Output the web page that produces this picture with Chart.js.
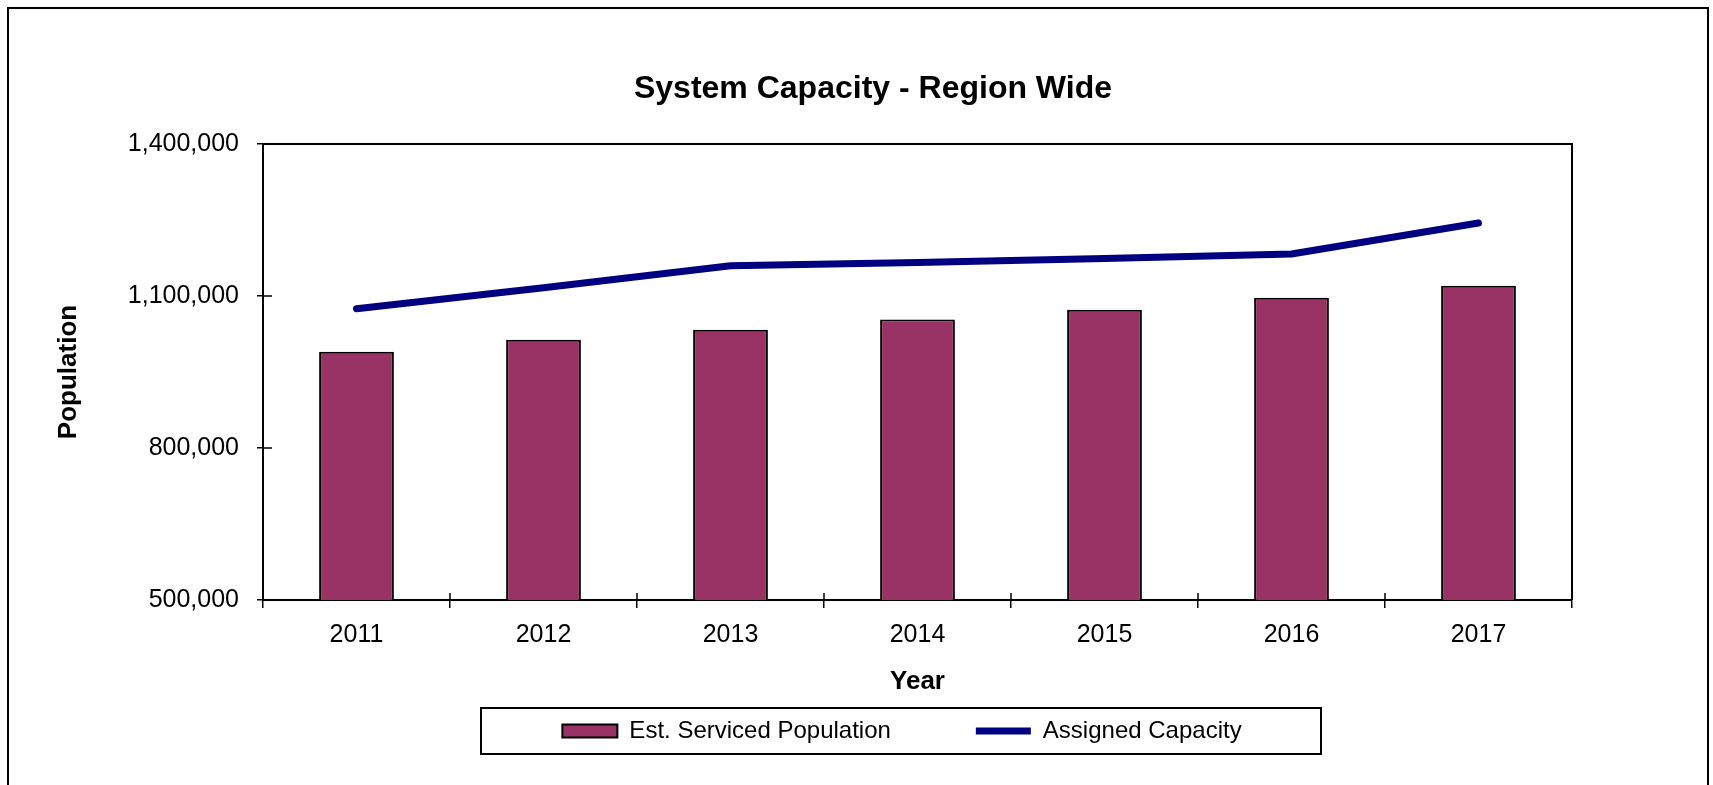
<!DOCTYPE html>
<html>
<head>
<meta charset="utf-8">
<title>System Capacity - Region Wide</title>
<script src="https://cdn.jsdelivr.net/npm/chart.js@4.4.1/dist/chart.umd.min.js"></script>
<style>
  html, body { margin: 0; padding: 0; background: #fff; }
  canvas { display: block; }
</style>
</head>
<body>
<canvas id="capacityChart" width="1713" height="785"></canvas>
<script>
// Chart data
const years = ['2011', '2012', '2013', '2014', '2015', '2016', '2017'];
const servicedPopulation = [990000, 1013700, 1033500, 1053800, 1073000, 1096600, 1120300]; // bars
const assignedCapacity = [1075000, 1116400, 1159800, 1166300, 1174200, 1182900, 1244100];   // line
const yTicks = [500000, 800000, 1100000, 1400000];

const FONT = "'Liberation Sans', Arial, Helvetica, sans-serif";
const titleCenterX = 873;   // title is not centred on the canvas
const legendCenterX = 902;  // neither is the legend row
const legendCenterY = 731;

// frame, plot box, inner tick marks and legend frame
const chartFrame = {
    id: 'chartFrame',
    beforeDraw(chart) {
        const ctx = chart.ctx;
        ctx.save();
        ctx.fillStyle = '#fff';
        ctx.fillRect(0, 0, chart.width, chart.height);
        ctx.strokeStyle = '#000';
        ctx.lineWidth = 2;
        ctx.strokeRect(8, 8, chart.width - 13, chart.height + 20); // bottom edge runs off the page
        ctx.restore();
    },
    afterLayout(chart) {
        // move title and legend where they belong
        const t = chart.titleBlock;
        const dt = titleCenterX - (t.left + t.right) / 2;
        t.left += dt; t.right += dt;
        const lg = chart.legend;
        const dl = legendCenterX - (lg.left + lg.right) / 2;
        lg.left += dl; lg.right += dl;
        const dy = legendCenterY - (lg.top + lg.options.labels.padding + 12);
        lg.top += dy; lg.bottom += dy;
    },
    afterDatasetsDraw(chart) {
        const { ctx, chartArea: a, scales: { x, y } } = chart;
        ctx.save();
        ctx.strokeStyle = '#000';
        ctx.lineWidth = 2;
        ctx.beginPath();
        ctx.moveTo(a.left, a.top);
        ctx.lineTo(a.right, a.top);
        ctx.lineTo(a.right, a.bottom);
        ctx.stroke();

        // tick marks cross the axes, draw the inside half
        ctx.lineWidth = 1.5;
        ctx.beginPath();
        y.ticks.forEach(t => {
            const py = Math.round(y.getPixelForValue(t.value));
            ctx.moveTo(a.left, py);
            ctx.lineTo(a.left + 9, py);
        });
        const step = (a.right - a.left) / x.ticks.length;
        for (let i = 0; i <= x.ticks.length; i++) {
            const px = Math.round(a.left + i * step);
            ctx.moveTo(px, a.bottom);
            ctx.lineTo(px, a.bottom - 7);
        }
        ctx.stroke();

        // box around the legend
        ctx.lineWidth = 2;
        ctx.strokeRect(legendCenterX - 421, legendCenterY - 23, 840, 46);
        ctx.restore();
    }
};

const ctx = document.getElementById('capacityChart').getContext('2d');
const capacityChart = new Chart(ctx, {
    type: 'bar',
    data: {
        labels: years,
        datasets: [{
            type: 'bar',
            label: 'Est. Serviced Population',
            data: servicedPopulation,
            backgroundColor: '#993366',
            borderColor: '#000',
            borderWidth: 2,
            barPercentage: 0.4,
            categoryPercentage: 1,
            pointStyle: 'rect'
        }, {
            type: 'line',
            label: 'Assigned Capacity',
            data: assignedCapacity,
            borderColor: '#000080',
            backgroundColor: '#000080',
            borderWidth: 7,
            borderCapStyle: 'round',
            borderJoinStyle: 'round',
            pointRadius: 0,
            pointStyle: 'line',
            tension: 0,
            fill: false
        }]
    },
    options: {
        responsive: false,
        animation: false,
        layout: { padding: { left: 0, right: 141, top: 0, bottom: 16 } },
        scales: {
            x: {
                afterFit: s => { s.height = 50; },
                grid: { display: true, offset: true, drawOnChartArea: false, tickLength: 8, color: '#000', lineWidth: 1.5 },
                border: { color: '#000', width: 2 },
                ticks: { color: '#000', padding: 12, font: { family: FONT, size: 25 } },
                title: {
                    display: true, text: 'Year', color: '#000',
                    font: { family: FONT, size: 26, weight: 'bold' },
                    padding: { top: 0, bottom: -47.6 }
                }
            },
            y: {
                min: 500000,
                max: 1400000,
                afterFit: s => { s.width = 263; },
                afterBuildTicks: s => { s.ticks = yTicks.map(v => ({ value: v })); },
                grid: { display: true, drawOnChartArea: false, tickLength: 6, color: '#000', lineWidth: 1.5 },
                border: { color: '#000', width: 2 },
                ticks: {
                    color: '#000', padding: 18,
                    font: { family: FONT, size: 25 },
                    callback: v => v.toLocaleString('en-US')
                },
                title: {
                    display: true, text: 'Population', color: '#000',
                    font: { family: FONT, size: 26, weight: 'bold' },
                    padding: { top: 53, bottom: 0 }
                }
            }
        },
        plugins: {
            title: {
                display: true,
                text: 'System Capacity - Region Wide',
                color: '#000',
                font: { family: FONT, size: 32, weight: 'bold' },
                padding: { top: 70, bottom: 35.6 }
            },
            legend: {
                position: 'bottom',
                labels: {
                    color: '#000',
                    font: { family: FONT, size: 24 },
                    usePointStyle: true,
                    pointStyleWidth: 55,
                    boxHeight: 13,
                    padding: 85
                }
            },
            tooltip: { enabled: false }
        }
    },
    plugins: [chartFrame]
});
</script>
</body>
</html>
